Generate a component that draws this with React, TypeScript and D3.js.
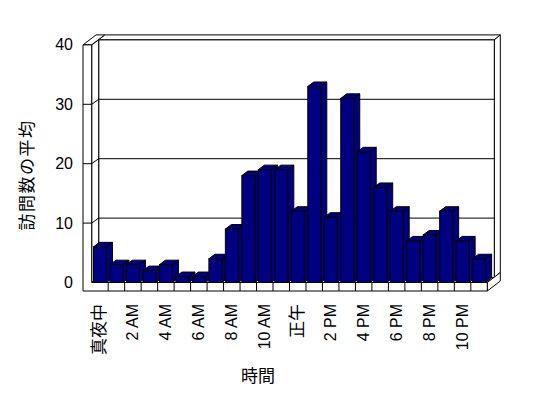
import React from "react";
import * as d3 from "d3";

const categories = [
  "真夜中", "1 AM", "2 AM", "3 AM", "4 AM", "5 AM", "6 AM", "7 AM", "8 AM", "9 AM", "10 AM", "11 AM",
  "正午", "1 PM", "2 PM", "3 PM", "4 PM", "5 PM", "6 PM", "7 PM", "8 PM", "9 PM", "10 PM", "11 PM",
];
const visits = [6, 3, 3, 2, 3, 1, 1, 4, 9, 18, 19, 19, 12, 33, 11, 31, 22, 16, 12, 7, 8, 12, 7, 4];
const yTicks = [0, 10, 20, 30, 40];
const yTitle = "訪問数の平均";
const xTitle = "時間";

const FONT = "'Liberation Sans', 'Noto Sans CJK JP', sans-serif";
const BAR = "#000080";

export default function App() {
  const x0 = 91.7, x1 = 487.3;
  const x = d3.scaleBand<string>().domain(categories).range([x0, x1]).paddingInner(0).paddingOuter(0);
  const y = d3.scaleLinear().domain([0, 40]).range([282.5, 44.9]);
  const dIn = { x: 7, y: -5 };
  const dTot = { x: 13, y: -10 };
  const wallOuterX = 83;
  const floorBottom = 291;
  const barDepth = { x: 6, y: -4.5 };
  const barOff = 1.8, barW = 13;

  const yTop = y(40), yBot = y(0);
  const pts = (a: number[][]) => a.map((p) => p.join(",")).join(" ");

  return (
    <svg
      width={548}
      height={398}
      style={{ position: "absolute", left: 0, top: 0, background: "#fff" }}
      fontFamily={FONT}
    >
      <rect x={0} y={0} width={548} height={398} fill="#fff" />
      <g stroke="#000" strokeWidth={1} fill="#fff" strokeLinejoin="miter">
        <polygon
          points={pts([
            [x0 + dIn.x, yTop + dIn.y],
            [x1 + dIn.x, yTop + dIn.y],
            [x1 + dTot.x, yTop + dTot.y],
            [x0 + dTot.x, yTop + dTot.y],
          ])}
        />
        <polygon
          points={pts([
            [x1 + dIn.x, yTop + dIn.y],
            [x1 + dTot.x, yTop + dTot.y],
            [x1 + dTot.x, yBot + dTot.y],
            [x1 + dIn.x, yBot + dIn.y],
          ])}
        />
        <rect x={x0 + dIn.x} y={yTop + dIn.y} width={x1 - x0} height={yBot - yTop} />
        <polygon
          points={pts([
            [wallOuterX, yTop],
            [x0, yTop],
            [x0 + dTot.x, yTop + dTot.y],
            [wallOuterX + dTot.x, yTop + dTot.y],
          ])}
        />
        <polygon
          points={pts([
            [x0, yTop],
            [x0 + dIn.x, yTop + dIn.y],
            [x0 + dIn.x, yBot + dIn.y],
            [x0, yBot],
          ])}
        />
        <polygon
          points={pts([
            [x0, yBot],
            [x1, yBot],
            [x1 + dIn.x, yBot + dIn.y],
            [x0 + dIn.x, yBot + dIn.y],
          ])}
        />
        <polygon
          points={pts([
            [x1, yBot],
            [x1, floorBottom],
            [x1 + dTot.x, floorBottom + dTot.y],
            [x1 + dTot.x, yBot + dTot.y],
          ])}
        />
        <polygon
          points={pts([
            [wallOuterX, yTop],
            [x0, yTop],
            [x0, yBot],
            [x1, yBot],
            [x1, floorBottom],
            [wallOuterX, floorBottom],
          ])}
        />
      </g>

      <g stroke="#000" strokeWidth={1}>
        {yTicks.filter((t) => t > 0 && t < 40).map((t) => (
          <g key={t}>
            <line x1={x0 + dIn.x} x2={x1 + dIn.x} y1={y(t) + dIn.y} y2={y(t) + dIn.y} />
            <line x1={x0} x2={x0 + dIn.x} y1={y(t)} y2={y(t) + dIn.y} />
            <line x1={wallOuterX} x2={x0} y1={y(t)} y2={y(t)} />
          </g>
        ))}
        {categories.slice(1).map((c) => (
          <line key={c} x1={x(c)!} x2={x(c)!} y1={yBot} y2={floorBottom} />
        ))}
      </g>

      <g stroke="#000" strokeWidth={1} fill={BAR} strokeLinejoin="miter">
        {categories.map((c, i) => {
          const bx = x(c)! + barOff;
          const by = y(visits[i]);
          const b0 = yBot;
          return (
            <g key={c}>
              <polygon
                points={pts([
                  [bx + barW, by],
                  [bx + barW + barDepth.x, by + barDepth.y],
                  [bx + barW + barDepth.x, b0 + barDepth.y],
                  [bx + barW, b0],
                ])}
              />
              <polygon
                points={pts([
                  [bx, by],
                  [bx + barDepth.x, by + barDepth.y],
                  [bx + barW + barDepth.x, by + barDepth.y],
                  [bx + barW, by],
                ])}
              />
              <rect x={bx} y={by} width={barW} height={b0 - by} />
            </g>
          );
        })}
      </g>

      <g fontSize={16} textAnchor="end" fill="#000">
        {yTicks.map((t) => (
          <text key={t} x={73} y={y(t)} dominantBaseline="central">
            {t}
          </text>
        ))}
      </g>

      <g textAnchor="end" fill="#000">
        {categories.map((c, i) =>
          i % 2 === 0 ? (
            <text
              key={c}
              transform={`translate(${x(c)! + x.bandwidth() / 2},304) rotate(-90)`}
              dominantBaseline="central"
              fontSize={/[\u3000-\u9fff]/.test(c) ? 17 : 16}
            >
              {c}
            </text>
          ) : null
        )}
      </g>

      <text
        transform="translate(27,175) rotate(-90)"
        textAnchor="middle"
        dominantBaseline="central"
        fontSize={17}
        letterSpacing={1.5}
      >
        {yTitle}
      </text>
      <text x={258} y={376} textAnchor="middle" dominantBaseline="central" fontSize={17}>
        {xTitle}
      </text>
    </svg>
  );
}
